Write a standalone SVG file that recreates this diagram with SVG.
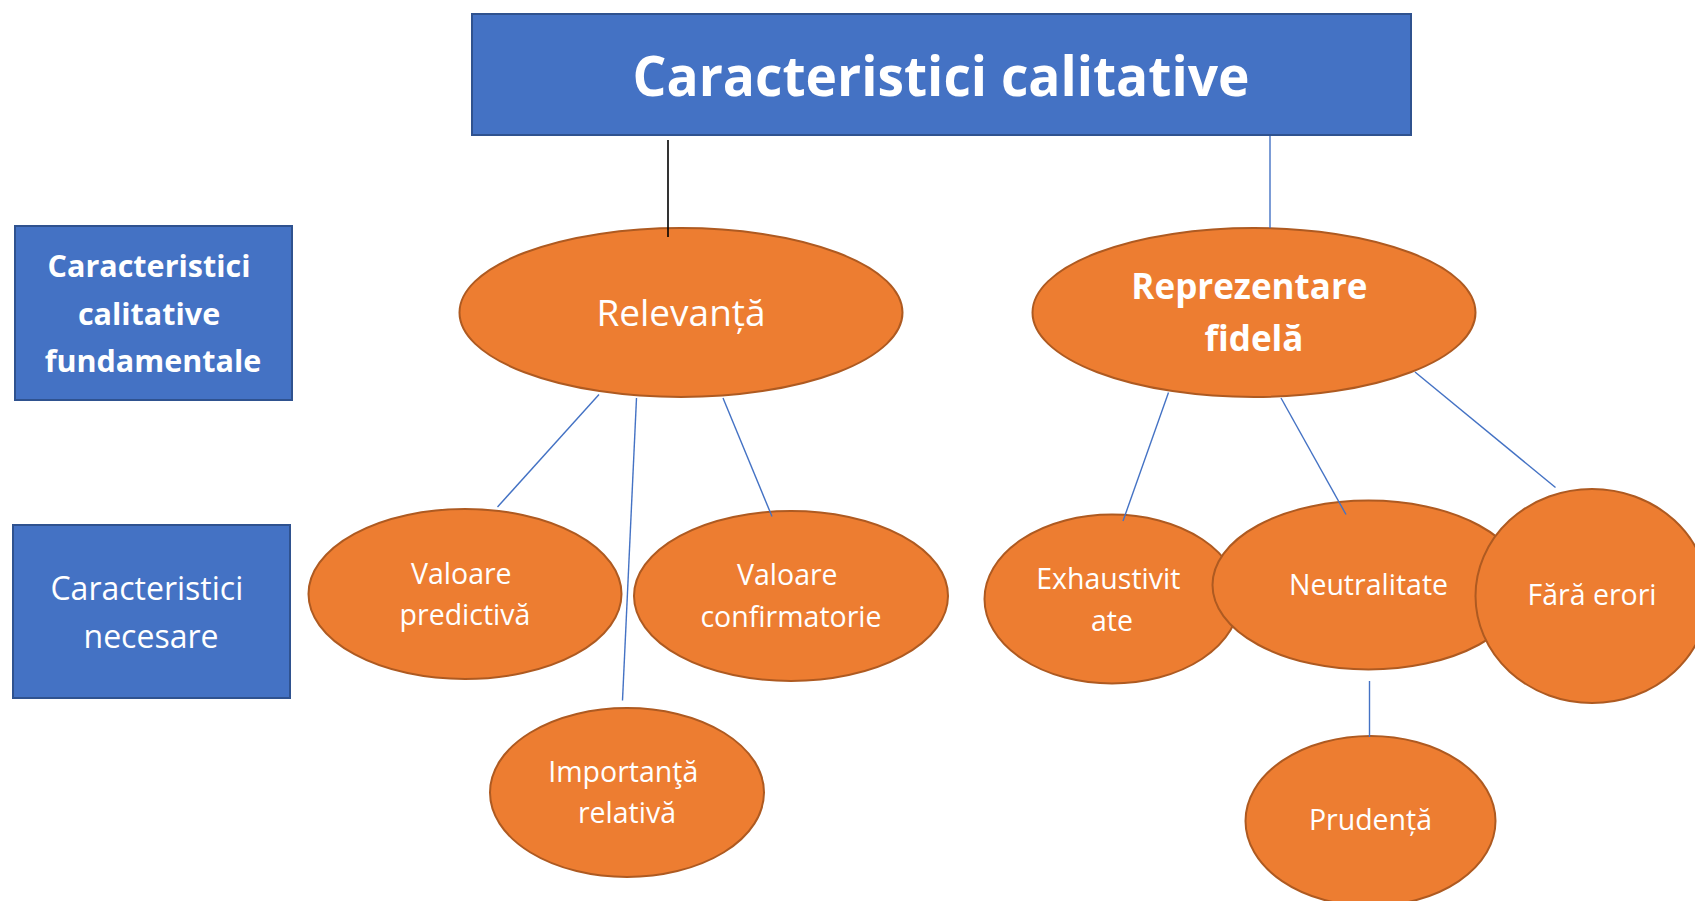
<svg xmlns="http://www.w3.org/2000/svg" width="1695" height="901" viewBox="0 0 1695 901">
  <style>
    .box { fill: #4472C4; stroke: #2F528F; stroke-width: 2; }
    .oval { fill: #ED7D31; stroke: #AE5A21; stroke-width: 2; }
    .txt { font-family: "Open Sans", "Noto Sans", "Liberation Sans", sans-serif; fill: #FFFFFF; text-anchor: middle; }
    .bold { font-weight: 700; }
    .link { stroke: #4472C4; stroke-width: 1.4; fill: none; }
    .link-dark { stroke: #000000; stroke-width: 1.6; fill: none; }
  </style>

  <rect width="1695" height="901" fill="#FFFFFF"/>

  <!-- Header -->
  <g id="title">
    <rect class="box" x="472" y="14" width="939" height="121"/>
    <text class="txt bold" x="941" y="96" font-size="55" textLength="617" lengthAdjust="spacingAndGlyphs">Caracteristici calitative</text>
  </g>

  <!-- Row labels -->
  <g id="label-fundamentale">
    <rect class="box" x="15" y="226" width="277" height="174"/>
    <text class="txt bold" font-size="30.5">
      <tspan x="153" y="277">Caracteristici</tspan>
      <tspan x="153" y="325">calitative</tspan>
      <tspan x="153" y="372">fundamentale</tspan>
    </text>
  </g>
  <g id="label-necesare">
    <rect class="box" x="13" y="525" width="277" height="173"/>
    <text class="txt" font-size="32">
      <tspan x="151" y="600">Caracteristici</tspan>
      <tspan x="151" y="648">necesare</tspan>
    </text>
  </g>

  <!-- Fundamental characteristics -->
  <g id="relevanta">
    <ellipse class="oval" cx="681" cy="312.5" rx="221.5" ry="84.5"/>
    <text class="txt" x="681" y="326" font-size="37">Relevanță</text>
  </g>
  <g id="reprezentare-fidela">
    <ellipse class="oval" cx="1254" cy="312.5" rx="221.5" ry="84.5"/>
    <text class="txt bold" font-size="35">
      <tspan x="1254" y="299">Reprezentare</tspan>
      <tspan x="1254" y="351">fidelă</tspan>
    </text>
  </g>

  <!-- Enhancing characteristics: relevance -->
  <g id="valoare-predictiva">
    <ellipse class="oval" cx="465" cy="594" rx="156.5" ry="85"/>
    <text class="txt" font-size="28.5">
      <tspan x="465" y="584">Valoare</tspan>
      <tspan x="465" y="625">predictivă</tspan>
    </text>
  </g>
  <g id="valoare-confirmatorie">
    <ellipse class="oval" cx="791" cy="596" rx="157" ry="85"/>
    <text class="txt" font-size="28.5">
      <tspan x="791" y="585">Valoare</tspan>
      <tspan x="791" y="627">confirmatorie</tspan>
    </text>
  </g>
  <g id="importanta-relativa">
    <ellipse class="oval" cx="627" cy="792.5" rx="137" ry="84.5"/>
    <text class="txt" font-size="28.5">
      <tspan x="627" y="782">Importanţă</tspan>
      <tspan x="627" y="823">relativă</tspan>
    </text>
  </g>

  <!-- Enhancing characteristics: faithful representation -->
  <g id="exhaustivitate">
    <ellipse class="oval" cx="1112" cy="599" rx="127.5" ry="84.5"/>
    <text class="txt" font-size="28.5">
      <tspan x="1112" y="589">Exhaustivit</tspan>
      <tspan x="1112" y="631">ate</tspan>
    </text>
  </g>
  <g id="neutralitate">
    <ellipse class="oval" cx="1368.5" cy="585" rx="156" ry="84.5"/>
    <text class="txt" x="1368.5" y="595" font-size="28.5">Neutralitate</text>
  </g>
  <g id="fara-erori">
    <ellipse class="oval" cx="1592" cy="596" rx="116.5" ry="107"/>
    <text class="txt" x="1592" y="605" font-size="28.5">Fără erori</text>
  </g>
  <g id="prudenta">
    <ellipse class="oval" cx="1370.5" cy="821" rx="125" ry="85"/>
    <text class="txt" x="1370.5" y="830" font-size="28.5">Prudență</text>
  </g>

  <!-- Connectors -->
  <g id="connectors">
    <line class="link-dark" x1="668" y1="140" x2="668" y2="237"/>
    <line class="link" x1="1270" y1="136" x2="1270" y2="228"/>
    <line class="link" x1="599" y1="394.5" x2="497.5" y2="507"/>
    <line class="link" x1="636.5" y1="398" x2="622.5" y2="700.5"/>
    <line class="link" x1="723" y1="398" x2="772" y2="516.5"/>
    <line class="link" x1="1168.5" y1="392.5" x2="1123" y2="521"/>
    <line class="link" x1="1281" y1="398" x2="1346" y2="514.5"/>
    <line class="link" x1="1415" y1="372" x2="1555.5" y2="487.5"/>
    <line class="link" x1="1369.5" y1="681" x2="1369.5" y2="737"/>
  </g>
</svg>
